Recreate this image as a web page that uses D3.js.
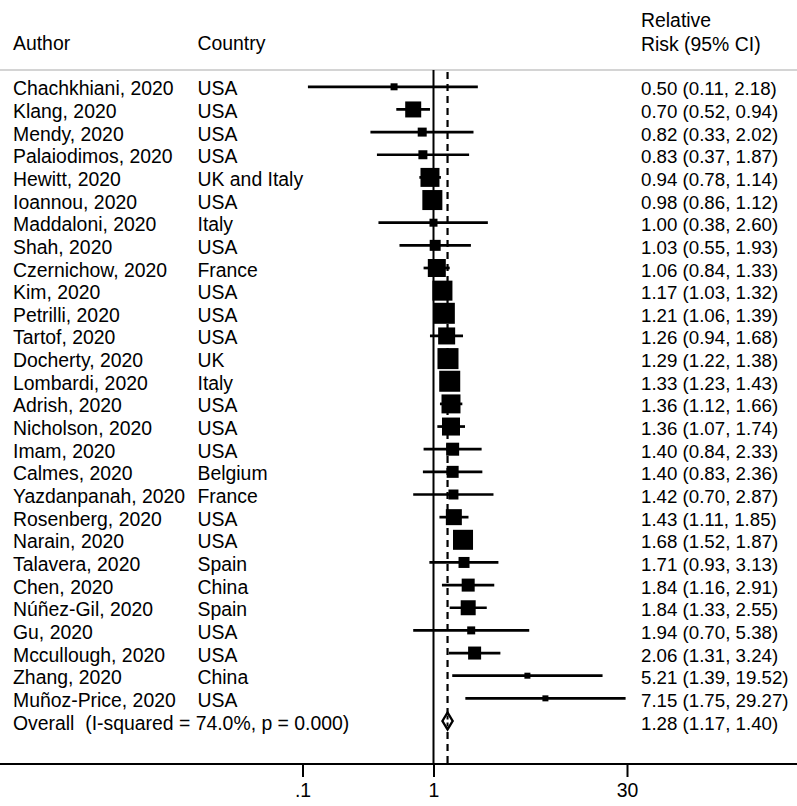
<!DOCTYPE html>
<html>
<head>
<meta charset="utf-8">
<script src="https://cdn.jsdelivr.net/npm/d3@7"></script>
<style>
  html, body { margin: 0; padding: 0; background: #fff; }
  svg { display: block; }
  text { font-family: "Liberation Sans", Arial, sans-serif; fill: #000; white-space: pre; }
</style>
</head>
<body>
<svg id="chart" width="797" height="806"></svg>
<script>
const authors = ["Chachkhiani, 2020","Klang, 2020","Mendy, 2020","Palaiodimos, 2020","Hewitt, 2020","Ioannou, 2020","Maddaloni, 2020","Shah, 2020","Czernichow, 2020","Kim, 2020","Petrilli, 2020","Tartof, 2020","Docherty, 2020","Lombardi, 2020","Adrish, 2020","Nicholson, 2020","Imam, 2020","Calmes, 2020","Yazdanpanah, 2020","Rosenberg, 2020","Narain, 2020","Talavera, 2020","Chen, 2020","Núñez-Gil, 2020","Gu, 2020","Mccullough, 2020","Zhang, 2020","Muñoz-Price, 2020"];
const countries = ["USA","USA","USA","USA","UK and Italy","USA","Italy","USA","France","USA","USA","USA","UK","Italy","USA","USA","USA","Belgium","France","USA","USA","Spain","China","Spain","USA","USA","China","USA"];
const rr    = [0.50,0.70,0.82,0.83,0.94,0.98,1.00,1.03,1.06,1.17,1.21,1.26,1.29,1.33,1.36,1.36,1.40,1.40,1.42,1.43,1.68,1.71,1.84,1.84,1.94,2.06,5.21,7.15];
const lower = [0.11,0.52,0.33,0.37,0.78,0.86,0.38,0.55,0.84,1.03,1.06,0.94,1.22,1.23,1.12,1.07,0.84,0.83,0.70,1.11,1.52,0.93,1.16,1.33,0.70,1.31,1.39,1.75];
const upper = [2.18,0.94,2.02,1.87,1.14,1.12,2.60,1.93,1.33,1.32,1.39,1.68,1.38,1.43,1.66,1.74,2.33,2.36,2.87,1.85,1.87,3.13,2.91,2.55,5.38,3.24,19.52,29.27];
// estimated study weights (%)
const weights = [0.72,3.77,1.19,1.19,5.3,5.9,0.94,1.78,4.77,5.9,6.5,4.26,6.5,6.5,5.3,4.77,2.49,2.12,1.47,3.77,5.9,1.78,2.49,3.31,0.94,2.49,0.53,0.53];
const overall = {label: "Overall  (I-squared = 74.0%, p = 0.000)", rr: 1.28, lower: 1.17, upper: 1.40};
const tickValues = [0.1, 1, 30];
const tickLabels = [".1", "1", "30"];
const headers = {author: "Author", country: "Country", es1: "Relative", es2: "Risk (95% CI)"};

const svg = d3.select("#chart");
const W = 797;
const fs = 19.4;
const fsNum = 18.7;
const fmt = d3.format(".2f");

const x = d3.scaleLog().domain([0.1, 30]).range([302.5, 627]);
const nRows = authors.length + 1;
const y = d3.scaleLinear().domain([0, nRows - 1]).range([86.8, 721]);
const boxScale = v => 8.24 * Math.sqrt(v);

const colAuthor = 13, colCountry = 197.5, colES = 641;
const topLine = 70, axisY = 764;

// headers
svg.append("text").attr("x", colAuthor).attr("y", 49.5).attr("font-size", fs).text(headers.author);
svg.append("text").attr("x", colCountry).attr("y", 49.5).attr("font-size", fs).text(headers.country);
svg.append("text").attr("x", colES).attr("y", 27.3).attr("font-size", fs).text(headers.es1);
svg.append("text").attr("x", colES).attr("y", 50.5).attr("font-size", fs).text(headers.es2);

// grey separator
svg.append("line").attr("x1", 0).attr("x2", W).attr("y1", topLine).attr("y2", topLine)
  .attr("stroke", "#d4d4d4").attr("stroke-width", 2);

// null line
svg.append("line").attr("x1", x(1)).attr("x2", x(1)).attr("y1", topLine).attr("y2", axisY)
  .attr("stroke", "#000").attr("stroke-width", 2);

// overall dashed line
svg.append("line").attr("x1", x(overall.rr)).attr("x2", x(overall.rr)).attr("y1", topLine + 2).attr("y2", axisY)
  .attr("stroke", "#000").attr("stroke-width", 2.2).attr("stroke-dasharray", "7,5");

const studies = authors.map((a, i) => ({a, c: countries[i], rr: rr[i], lo: lower[i], hi: upper[i], w: weights[i], i}));

// CI lines
svg.append("g").selectAll("line").data(studies).join("line")
  .attr("x1", d => x(d.lo)).attr("x2", d => x(d.hi))
  .attr("y1", d => y(d.i)).attr("y2", d => y(d.i))
  .attr("stroke", "#000").attr("stroke-width", 2.7);

// boxes
svg.append("g").selectAll("rect").data(studies).join("rect")
  .attr("x", d => x(d.rr) - boxScale(d.w) / 2)
  .attr("y", d => y(d.i) - boxScale(d.w) / 2)
  .attr("width", d => boxScale(d.w))
  .attr("height", d => boxScale(d.w))
  .attr("fill", "#000");

// overall diamond
const oy = y(nRows - 1), dh = 8.5;
svg.append("path")
  .attr("d", `M${x(overall.lower)},${oy} L${x(overall.rr)},${oy - dh} L${x(overall.upper)},${oy} L${x(overall.rr)},${oy + dh} Z`)
  .attr("fill", "#fff").attr("stroke", "#000").attr("stroke-width", 2.4);
svg.append("line").attr("x1", x(overall.rr)).attr("x2", x(overall.rr)).attr("y1", oy - dh + 3).attr("y2", oy + dh - 3)
  .attr("stroke", "#000").attr("stroke-width", 2).attr("stroke-dasharray", "4,3");

// row texts
const tg = svg.append("g").attr("font-size", fs);
tg.selectAll("text.a").data(studies).join("text").attr("class", "a")
  .attr("x", colAuthor).attr("y", d => y(d.i) + 8.5).text(d => d.a);
tg.selectAll("text.c").data(studies).join("text").attr("class", "c")
  .attr("x", colCountry).attr("y", d => y(d.i) + 8.5).text(d => d.c);
tg.selectAll("text.e").data(studies).join("text").attr("class", "e")
  .attr("x", colES).attr("y", d => y(d.i) + 8.5).attr("font-size", fsNum)
  .text(d => `${fmt(d.rr)} (${fmt(d.lo)}, ${fmt(d.hi)})`);
tg.append("text").attr("x", colAuthor).attr("y", oy + 8.5).text(overall.label);
tg.append("text").attr("x", colES).attr("y", oy + 8.5).attr("font-size", fsNum)
  .text(`${fmt(overall.rr)} (${fmt(overall.lower)}, ${fmt(overall.upper)})`);

// axis
svg.append("line").attr("x1", 0).attr("x2", W).attr("y1", axisY).attr("y2", axisY)
  .attr("stroke", "#000").attr("stroke-width", 2);
const axis = d3.axisBottom(x).tickValues(tickValues).tickFormat((d, i) => tickLabels[i]).tickSize(13).tickPadding(6);
const ag = svg.append("g").attr("transform", `translate(0,${axisY})`).call(axis);
ag.select(".domain").remove();
ag.selectAll(".tick line").attr("stroke", "#000").attr("stroke-width", 2);
ag.selectAll(".tick text").attr("font-size", fs).attr("font-family", "Liberation Sans, Arial, sans-serif").attr("fill", "#000");
</script>
</body>
</html>
